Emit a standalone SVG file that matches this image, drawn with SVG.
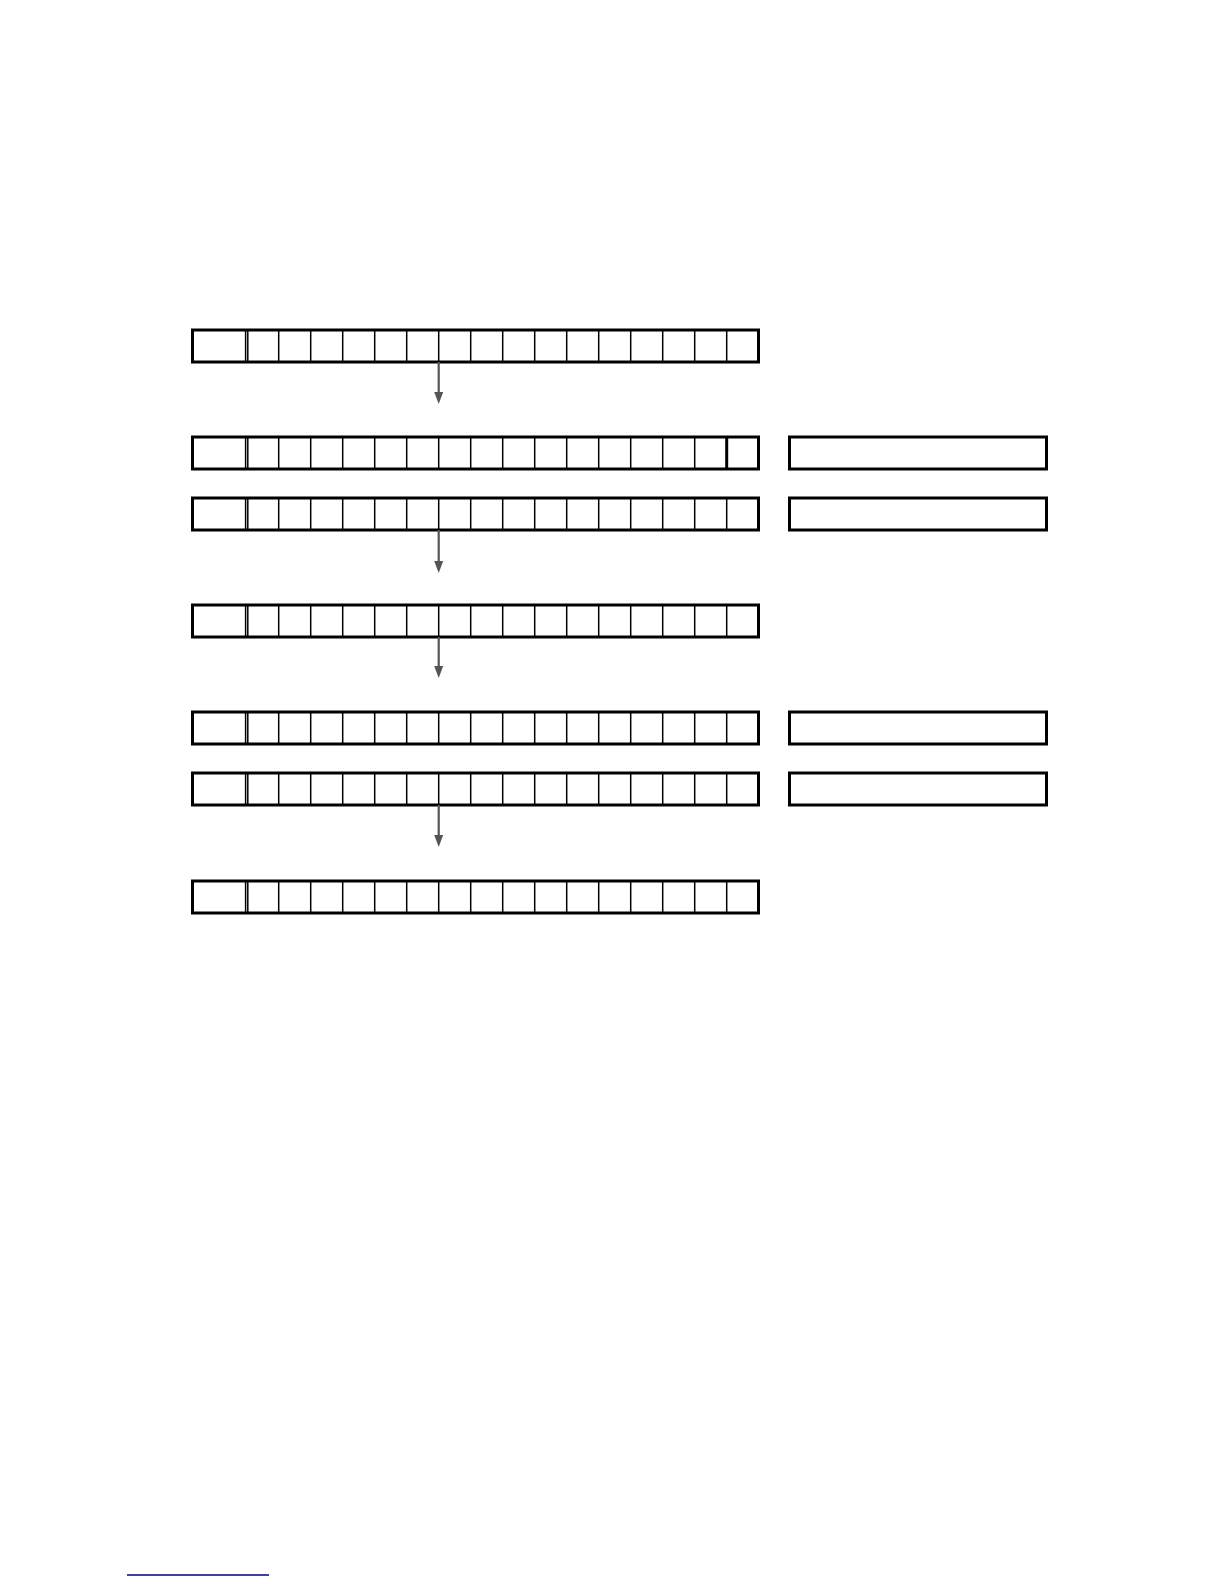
<svg xmlns="http://www.w3.org/2000/svg" xmlns:xlink="http://www.w3.org/1999/xlink" width="1224" height="1584" viewBox="0 0 1224 1584">
<style>
.outer{fill:#fff;stroke:#000;stroke-width:3}
.div{stroke:#000;stroke-width:1.5;fill:none}
.thick{stroke:#000;stroke-width:3;fill:none}
.box{fill:#fff;stroke:#000;stroke-width:3}
.arr{stroke:#555;stroke-width:2.2;fill:none}
</style>
<defs>
<g id="row">
<rect class="outer" x="192.5" y="0" width="566" height="32"/>
<path class="div" d="M245.6 0V32M247.8 0V32M278.7 0V32M310.7 0V32M342.7 0V32M374.7 0V32M406.7 0V32M438.7 0V32M470.7 0V32M502.7 0V32M534.7 0V32M566.7 0V32M598.7 0V32M630.7 0V32M662.7 0V32M694.7 0V32M726.7 0V32"/>
</g>
<marker id="ah" markerWidth="10" markerHeight="14" refX="9" refY="5" orient="auto" markerUnits="userSpaceOnUse" viewBox="0 0 10 10">
<path d="M0 0L10 5L0 10Z" fill="#555"/>
</marker>
</defs>
<rect width="1224" height="1584" fill="#fff"/>
<g id="row1"><use xlink:href="#row" href="#row" y="330"/></g>
<g id="row2"><use xlink:href="#row" href="#row" y="437"/><path class="thick" d="M726.7 437V469"/></g>
<g id="row3"><use xlink:href="#row" href="#row" y="498"/></g>
<g id="row4"><use xlink:href="#row" href="#row" y="605"/></g>
<g id="row5"><use xlink:href="#row" href="#row" y="712"/></g>
<g id="row6"><use xlink:href="#row" href="#row" y="773"/></g>
<g id="row7"><use xlink:href="#row" href="#row" y="881"/></g>
<g id="box2"><rect class="box" x="789.5" y="437" width="257" height="32"/></g>
<g id="box3"><rect class="box" x="789.5" y="498" width="257" height="32"/></g>
<g id="box5"><rect class="box" x="789.5" y="712" width="257" height="32"/></g>
<g id="box6"><rect class="box" x="789.5" y="773" width="257" height="32"/></g>
<g id="connectors">
<path class="arr" d="M438.7 362V396" />
<path d="M434.2 392L443.2 392L438.7 404Z" fill="#555"/>
<path class="arr" d="M438.7 530V565" />
<path d="M434.2 561L443.2 561L438.7 573Z" fill="#555"/>
<path class="arr" d="M438.7 637V670" />
<path d="M434.2 666L443.2 666L438.7 678Z" fill="#555"/>
<path class="arr" d="M438.7 805V839" />
<path d="M434.2 835L443.2 835L438.7 847Z" fill="#555"/>
</g>
<line x1="127" y1="1575" x2="269" y2="1575" stroke="#000080" stroke-width="1.5"/>
</svg>
